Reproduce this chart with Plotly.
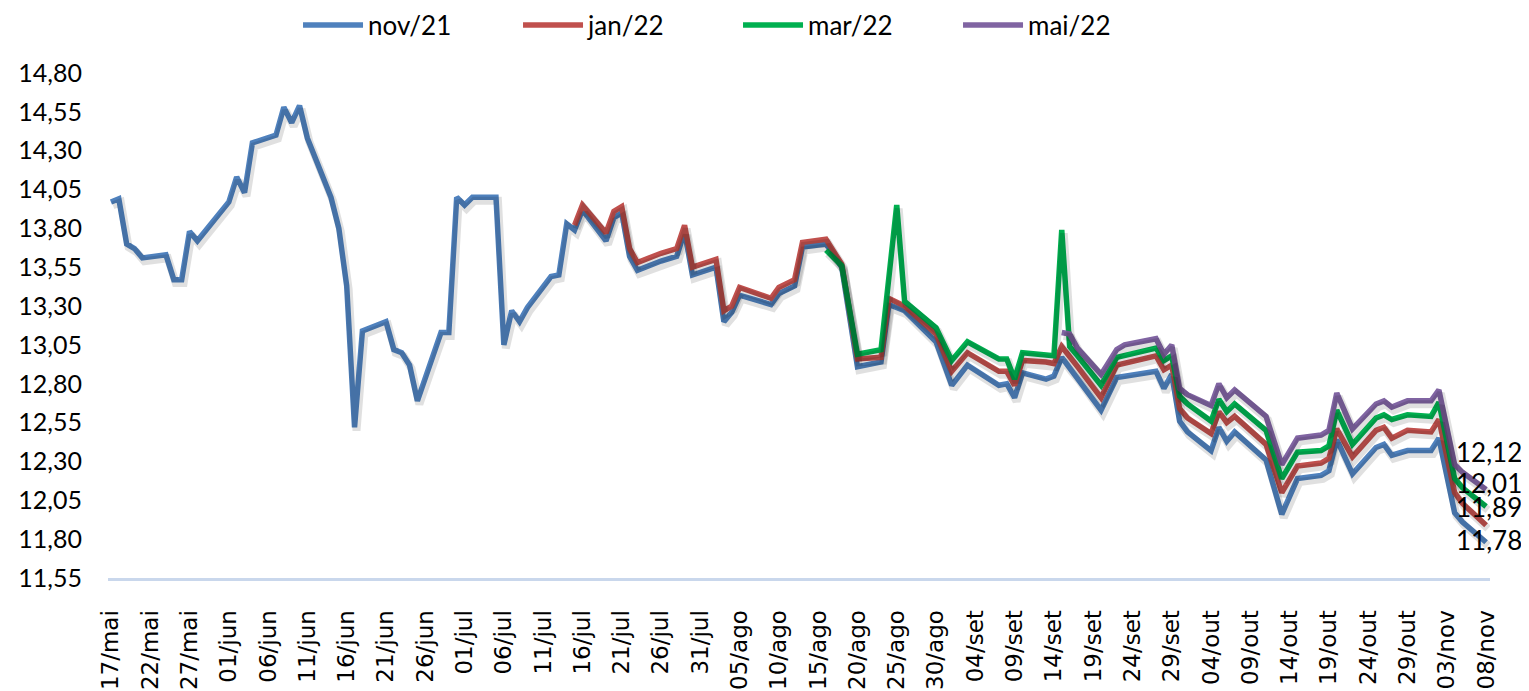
import plotly.graph_objects as go

# ---------------- data ----------------
nov21_dates = ["2021-05-17","2021-05-18","2021-05-19","2021-05-20","2021-05-21","2021-05-24","2021-05-25","2021-05-26",
    "2021-05-27","2021-05-28","2021-06-01","2021-06-02","2021-06-03","2021-06-04","2021-06-07","2021-06-08","2021-06-09",
    "2021-06-10","2021-06-11","2021-06-14","2021-06-15","2021-06-16","2021-06-17","2021-06-18","2021-06-21","2021-06-22",
    "2021-06-23","2021-06-24","2021-06-25","2021-06-28","2021-06-29","2021-06-30","2021-07-01","2021-07-02","2021-07-05",
    "2021-07-06","2021-07-07","2021-07-08","2021-07-09","2021-07-12","2021-07-13","2021-07-14","2021-07-15","2021-07-16",
    "2021-07-19","2021-07-20","2021-07-21","2021-07-22","2021-07-23","2021-07-26","2021-07-28","2021-07-29","2021-07-30",
    "2021-08-02","2021-08-03","2021-08-04","2021-08-05","2021-08-09","2021-08-10","2021-08-12","2021-08-13","2021-08-16",
    "2021-08-18","2021-08-20","2021-08-23","2021-08-24","2021-08-26","2021-08-30","2021-09-01","2021-09-03","2021-09-07",
    "2021-09-08","2021-09-09","2021-09-10","2021-09-13","2021-09-14","2021-09-15","2021-09-16","2021-09-17","2021-09-20",
    "2021-09-22","2021-09-27","2021-09-28","2021-09-29","2021-09-30","2021-10-01","2021-10-04","2021-10-05","2021-10-06",
    "2021-10-07","2021-10-11","2021-10-13","2021-10-15","2021-10-18","2021-10-19","2021-10-20","2021-10-22","2021-10-25",
    "2021-10-26","2021-10-27","2021-10-29","2021-11-01","2021-11-02","2021-11-04","2021-11-05","2021-11-08"]
nov21_values = [13.97,13.99,13.70,13.67,13.61,13.63,13.47,13.47,
    13.78,13.72,13.97,14.13,14.03,14.35,14.40,14.58,14.48,
    14.59,14.38,14.00,13.80,13.43,12.52,13.14,13.20,13.02,
    13.00,12.92,12.69,13.13,13.13,14.00,13.95,14.00,14.00,
    13.05,13.27,13.20,13.29,13.49,13.50,13.83,13.79,13.92,
    13.72,13.87,13.90,13.62,13.53,13.59,13.62,13.78,13.50,
    13.55,13.20,13.26,13.37,13.31,13.38,13.43,13.68,13.70,
    13.55,12.91,12.94,13.31,13.27,13.07,12.79,12.92,12.79,
    12.80,12.71,12.87,12.83,12.85,12.97,12.90,12.84,12.63,
    12.84,12.88,12.77,12.86,12.56,12.49,12.37,12.52,12.43,
    12.49,12.31,11.96,12.19,12.21,12.24,12.44,12.22,12.39,
    12.41,12.34,12.37,12.37,12.45,11.97,11.91,11.78]

jan22_dates = ["2021-07-15","2021-07-16","2021-07-19","2021-07-20","2021-07-21","2021-07-22","2021-07-23","2021-07-26",
    "2021-07-28","2021-07-29","2021-07-30","2021-08-02","2021-08-03","2021-08-04","2021-08-05","2021-08-09","2021-08-10",
    "2021-08-12","2021-08-13","2021-08-16","2021-08-18","2021-08-20","2021-08-23","2021-08-24","2021-08-26","2021-08-30",
    "2021-09-01","2021-09-03","2021-09-07","2021-09-08","2021-09-09","2021-09-10","2021-09-13","2021-09-14","2021-09-15",
    "2021-09-16","2021-09-17","2021-09-20","2021-09-22","2021-09-27","2021-09-28","2021-09-29","2021-09-30","2021-10-01",
    "2021-10-04","2021-10-05","2021-10-06","2021-10-07","2021-10-11","2021-10-13","2021-10-15","2021-10-18","2021-10-19",
    "2021-10-20","2021-10-22","2021-10-25","2021-10-26","2021-10-27","2021-10-29","2021-11-01","2021-11-02","2021-11-04",
    "2021-11-05","2021-11-08"]
jan22_values = [13.82,13.95,13.77,13.91,13.94,13.67,13.58,13.64,
    13.67,13.82,13.55,13.60,13.27,13.30,13.42,13.35,13.42,
    13.47,13.71,13.73,13.57,12.96,12.97,13.35,13.30,13.12,
    12.88,13.00,12.88,12.88,12.79,12.95,12.94,12.93,13.04,
    12.98,12.91,12.71,12.92,12.98,12.89,12.92,12.64,12.58,
    12.48,12.62,12.55,12.59,12.41,12.10,12.27,12.29,12.32,
    12.51,12.33,12.50,12.52,12.45,12.50,12.49,12.57,12.10,
    12.03,11.89]

mar22_dates = ["2021-08-16","2021-08-18","2021-08-20","2021-08-23","2021-08-25","2021-08-26","2021-08-30","2021-09-01",
    "2021-09-03","2021-09-07","2021-09-08","2021-09-09","2021-09-10","2021-09-13","2021-09-14","2021-09-15","2021-09-16",
    "2021-09-17","2021-09-20","2021-09-22","2021-09-27","2021-09-28","2021-09-29","2021-09-30","2021-10-01","2021-10-04",
    "2021-10-05","2021-10-06","2021-10-07","2021-10-11","2021-10-13","2021-10-15","2021-10-18","2021-10-19","2021-10-20",
    "2021-10-22","2021-10-25","2021-10-26","2021-10-27","2021-10-29","2021-11-01","2021-11-02","2021-11-04","2021-11-05",
    "2021-11-08"]
mar22_values = [13.66,13.56,12.99,13.02,13.95,13.33,13.16,12.95,
    13.07,12.96,12.96,12.83,13.00,12.99,12.98,13.79,13.04,
    12.98,12.79,12.97,13.03,12.95,12.98,12.72,12.67,12.56,
    12.70,12.62,12.67,12.50,12.19,12.36,12.37,12.40,12.63,
    12.41,12.58,12.60,12.57,12.60,12.59,12.68,12.19,12.13,
    12.01]

mai22_dates = ["2021-09-15","2021-09-16","2021-09-17","2021-09-20","2021-09-22","2021-09-23","2021-09-27","2021-09-28",
    "2021-09-29","2021-09-30","2021-10-01","2021-10-04","2021-10-05","2021-10-06","2021-10-07","2021-10-11","2021-10-13",
    "2021-10-15","2021-10-18","2021-10-19","2021-10-20","2021-10-22","2021-10-25","2021-10-26","2021-10-27","2021-10-29",
    "2021-11-01","2021-11-02","2021-11-04","2021-11-05","2021-11-08"]
mai22_values = [13.13,13.12,13.03,12.86,13.02,13.05,13.09,12.99,
    13.05,12.77,12.73,12.66,12.80,12.71,12.76,12.59,12.28,
    12.45,12.47,12.50,12.74,12.51,12.67,12.69,12.65,12.69,
    12.69,12.76,12.28,12.23,12.12]

series_names = ["nov/21", "jan/22", "mar/22", "mai/22"]
series_colors = ["#4F81BD", "#C0504D", "#00B050", "#8064A2"]
label_shifts = [2, 18, 24, 37]

tick_dates = ["2021-05-17","2021-05-22","2021-05-27","2021-06-01","2021-06-06","2021-06-11","2021-06-16","2021-06-21",
    "2021-06-26","2021-07-01","2021-07-06","2021-07-11","2021-07-16","2021-07-21","2021-07-26","2021-07-31","2021-08-05",
    "2021-08-10","2021-08-15","2021-08-20","2021-08-25","2021-08-30","2021-09-04","2021-09-09","2021-09-14","2021-09-19",
    "2021-09-24","2021-09-29","2021-10-04","2021-10-09","2021-10-14","2021-10-19","2021-10-24","2021-10-29","2021-11-03",
    "2021-11-08"]
tick_labels = ["17/mai","22/mai","27/mai","01/jun","06/jun","11/jun","16/jun","21/jun",
    "26/jun","01/jul","06/jul","11/jul","16/jul","21/jul","26/jul","31/jul","05/ago",
    "10/ago","15/ago","20/ago","25/ago","30/ago","04/set","09/set","14/set","19/set",
    "24/set","29/set","04/out","09/out","14/out","19/out","24/out","29/out","03/nov",
    "08/nov"]

Y_RANGE = [11.55, 14.80]
X_RANGE = ["2021-05-16 15:00", "2021-11-08 12:00"]
# soft drop shadow: same data drawn on a twin axis pair whose ranges are nudged
SHADOW_Y_NUDGE = 0.022
SHADOW_X_RANGE = ["2021-05-16 09:00", "2021-11-08 06:00"]

# ---------------- figure ----------------
all_dates = [nov21_dates, jan22_dates, mar22_dates, mai22_dates]
all_values = [nov21_values, jan22_values, mar22_values, mai22_values]

fig = go.Figure()
for d, v in zip(all_dates, all_values):
    fig.add_trace(go.Scatter(x=d, y=v, mode="lines", showlegend=False, hoverinfo="skip",
                             xaxis="x2", yaxis="y2",
                             line=dict(color="rgba(0,0,0,0.12)", width=8)))

for name, d, v, c in zip(series_names, all_dates, all_values, series_colors):
    fig.add_trace(go.Scatter(x=d, y=v, name=name, mode="lines",
                             line=dict(color=c, width=5.5)))

for d, v, s in zip(all_dates, all_values, label_shifts):
    fig.add_annotation(x=d[-1], y=v[-1], text=f"{v[-1]:.2f}".replace(".", ","),
                       showarrow=False, xanchor="center", yanchor="middle",
                       xshift=3, yshift=s,
                       font=dict(family="Lato", size=26, color="#000000"))

fig.update_layout(
    width=1521, height=683,
    margin=dict(l=100, r=39, t=65, b=113, autoexpand=False),
    paper_bgcolor="white", plot_bgcolor="white",
    separators=",.",
    showlegend=True,
    legend=dict(orientation="h", x=0.1375, xanchor="left",
                yref="container", y=0.975, yanchor="middle",
                font=dict(family="Lato", size=26, color="#000000"),
                itemwidth=60,
                entrywidth=145, entrywidthmode="pixels",
                bgcolor="rgba(0,0,0,0)"),
    xaxis=dict(type="date", range=X_RANGE, automargin=False,
               tickmode="array", tickvals=tick_dates, ticktext=tick_labels,
               tickangle=-90, ticks="", showgrid=False, zeroline=False,
               showline=True, linecolor="#C9D7EC", linewidth=3,
               ticklabelstandoff=20,
               tickfont=dict(family="DejaVu Sans", size=23, color="#000000")),
    yaxis=dict(range=Y_RANGE, tick0=11.55, dtick=0.25, tickformat=".2f", automargin=False,
               showgrid=False, zeroline=False, showline=False, ticks="",
               ticklabelstandoff=25,
               tickfont=dict(family="Lato", size=25, color="#000000")),
    xaxis2=dict(type="date", range=SHADOW_X_RANGE, overlaying="x", visible=False),
    yaxis2=dict(range=[Y_RANGE[0] + SHADOW_Y_NUDGE, Y_RANGE[1] + SHADOW_Y_NUDGE],
                overlaying="y", visible=False),
)

fig.write_html("out.html")
